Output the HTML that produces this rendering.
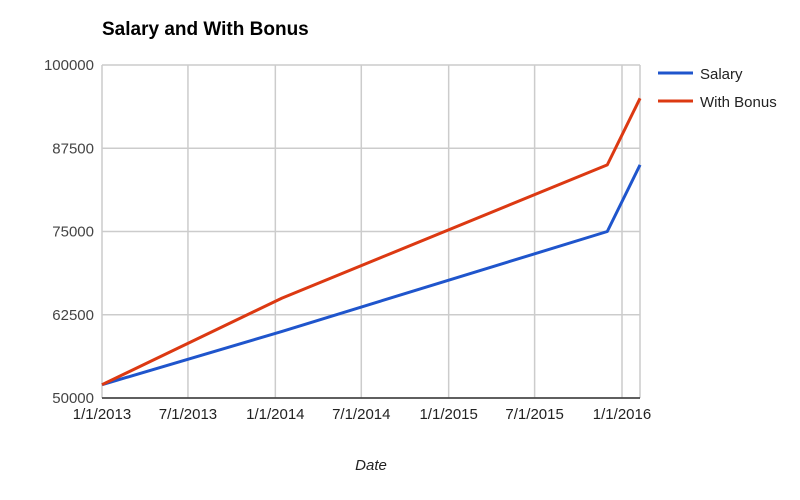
<!DOCTYPE html>
<html><head><meta charset="utf-8"><style>
body{margin:0;background:#fff;font-family:"Liberation Sans",Arial,sans-serif}
svg text{font-family:"Liberation Sans",Arial,sans-serif}
</style></head><body>
<svg id="chart" width="800" height="495">
<text x="102" y="35" font-size="19" font-weight="bold" fill="#000">Salary and With Bonus</text>
<g id="grid"></g>
<g id="series"></g>
<text x="371" y="470" font-size="15" font-style="italic" text-anchor="middle" fill="#222">Date</text>
<g>
<line x1="658" y1="73" x2="693" y2="73" stroke="#1f55cc" stroke-width="3"/>
<text x="700" y="79" font-size="15" fill="#222">Salary</text>
<line x1="658" y1="101" x2="693" y2="101" stroke="#dc3912" stroke-width="3"/>
<text x="700" y="107" font-size="15" fill="#222">With Bonus</text>
</g>
</svg>
<script>
const dates = ["2013-01-01","2014-01-15","2015-12-01","2016-02-08"];
const salary = [52000,60000,75000,85000];
const withBonus = [52000,65000,85000,95000];
const yTicks = [50000,62500,75000,87500,100000];
const xTickLabels = ["1/1/2013","7/1/2013","1/1/2014","7/1/2014","1/1/2015","7/1/2015","1/1/2016"];
const xTickDates = ["2013-01-01","2013-07-01","2014-01-01","2014-07-01","2015-01-01","2015-07-01","2016-01-01"];

const NS="http://www.w3.org/2000/svg";
const day=s=>Date.parse(s+"T00:00:00Z")/86400000;
const d0=day("2013-01-01"), d1=day("2016-01-01");
const X=s=>102+(day(s)-d0)*(622-102)/(d1-d0);
const Y=v=>398-(v-50000)*(398-65)/50000;
const L=640;
function mk(tag,attrs,parent){const e=document.createElementNS(NS,tag);for(const k in attrs)e.setAttribute(k,attrs[k]);parent.appendChild(e);return e;}
const grid=document.getElementById('grid'), series=document.getElementById('series');
yTicks.forEach(v=>{
  const l=mk('line',{x1:102,x2:L,y1:Y(v),y2:Y(v),stroke:'#cccccc','stroke-width':1.5},grid);
  
  
  const t=mk('text',{x:94,y:Y(v)+5,'font-size':15,'text-anchor':'end',fill:'#444'},grid);
  t.textContent=v;
  
  
});
xTickDates.forEach((s,i)=>{
  const l=mk('line',{x1:X(s),x2:X(s),y1:65,y2:398,stroke:'#cccccc','stroke-width':1.5},grid);
  
  
  const t=mk('text',{x:X(s),y:419,'font-size':15,'text-anchor':'middle',fill:'#222'},grid);
  t.textContent=xTickLabels[i];
  
  
});
const r=mk('line',{x1:L,x2:L,y1:65,y2:398,stroke:'#cccccc','stroke-width':1.5},grid);


const b=mk('line',{x1:102,x2:L,y1:398,y2:398,stroke:'#333','stroke-width':1.5},grid);


function draw(vals,color,name){
  const p=mk('polyline',{points:dates.map((d,i)=>X(d)+','+Y(vals[i])).join(' '),fill:'none',stroke:color,'stroke-width':3,'stroke-linejoin':'round'},series);
  
  
}
draw(salary,'#1f55cc','salary-line');
draw(withBonus,'#dc3912','with-bonus-line');
</script>
</body></html>
